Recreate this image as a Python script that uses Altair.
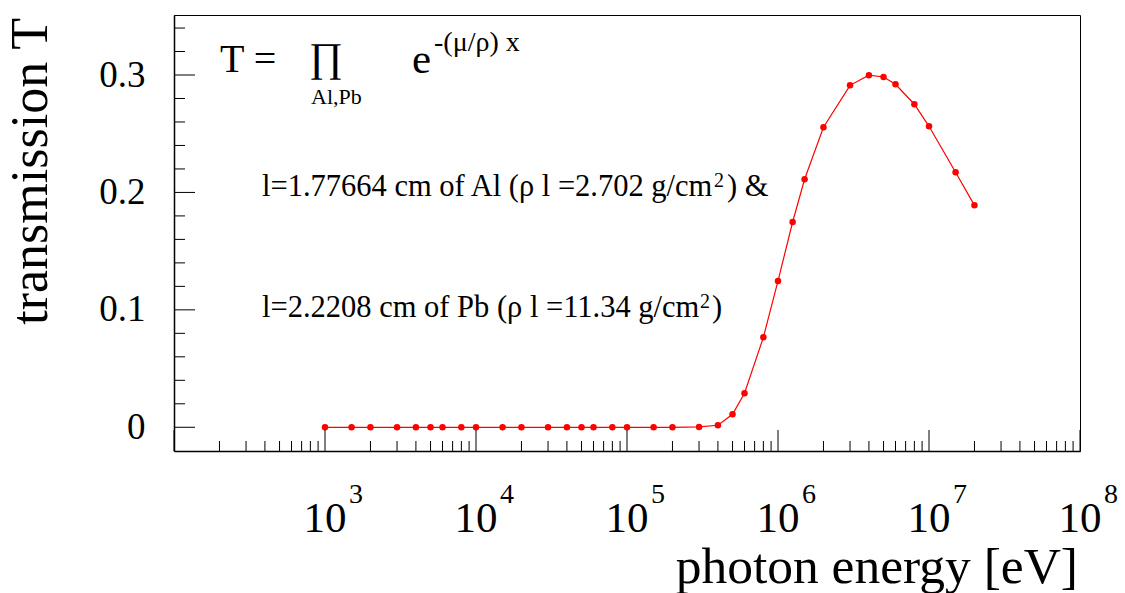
import altair as alt
import pandas as pd

# Photon energies (eV) and the transmission through Al + Pb layers
energy_eV = [1e3, 1.5e3, 2e3, 3e3, 4e3, 5e3, 6e3, 8e3,
             1e4, 1.5e4, 2e4, 3e4, 4e4, 5e4, 6e4, 8e4,
             1e5, 1.5e5, 2e5, 3e5, 4e5, 5e5, 6e5, 8e5,
             1e6, 1.25e6, 1.5e6, 2e6, 3e6, 4e6, 5e6, 6e6, 8e6,
             1e7, 1.5e7, 2e7]
transmission = [0.0, 0.0, 0.0, 0.0, 0.0, 0.0, 0.0, 0.0,
                0.0, 0.0, 0.0, 0.0, 0.0, 0.0, 0.0, 0.0,
                0.0, 0.0, 0.0, 0.0003, 0.0017, 0.0111, 0.0290, 0.0766,
                0.1246, 0.1748, 0.2112, 0.2555, 0.2912, 0.2998, 0.2983, 0.2921, 0.2751,
                0.2563, 0.2172, 0.1890]

# Axis tick values
y_major = [0.0, 0.1, 0.2, 0.3]
y_minor = [0.02, 0.04, 0.06, 0.08, 0.12, 0.14, 0.16, 0.18,
           0.22, 0.24, 0.26, 0.28, 0.32, 0.34]
x_major_exp = [2, 3, 4, 5, 6, 7, 8]
x_label_exp = ["3", "4", "5", "6", "7", "8"]
x_minor_mult = [2, 3, 4, 5, 6, 7, 8, 9]

FONT = "Liberation Serif"
W, H = 906, 436
RED = "#ff0000"

df = pd.DataFrame({"E": energy_eV, "T": transmission})

xs = alt.Scale(type="log", domain=[1e2, 1e8], nice=False)
ys = alt.Scale(domain=[-0.0202, 0.3511], nice=False, zero=False)

x_enc = alt.X("E:Q", scale=xs,
              axis=alt.Axis(labels=False, ticks=False, tickSize=0, title=None, grid=False,
                            domainColor="black", domainWidth=1.5))
y_enc = alt.Y("T:Q", scale=ys,
              axis=alt.Axis(values=y_major, format=".1~f", ticks=False, tickSize=0,
                            grid=False, title=None, labelFont=FONT, labelFontSize=37,
                            labelColor="black", labelPadding=29,
                            domainColor="black", domainWidth=1.5))

line = alt.Chart(df).mark_line(color=RED, strokeWidth=1.2).encode(x=x_enc, y=y_enc)
pts = alt.Chart(df).mark_circle(color=RED, opacity=1, size=42).encode(
    x=alt.X("E:Q", scale=xs), y=alt.Y("T:Q", scale=ys))

# inward ticks on the left axis
yticks_major = alt.Chart(pd.DataFrame({"v": y_major})).mark_rule(
    color="black", strokeWidth=1).encode(
    y=alt.Y("v:Q", scale=ys), x=alt.value(0), x2=alt.value(21))
yticks_minor = alt.Chart(pd.DataFrame({"v": y_minor})).mark_rule(
    color="black", strokeWidth=1).encode(
    y=alt.Y("v:Q", scale=ys), x=alt.value(0), x2=alt.value(11))

# inward ticks on the bottom (log) axis
xmaj = [10.0 ** e for e in x_major_exp]
xmin = [m * 10.0 ** e for e in x_major_exp[:-1] for m in x_minor_mult]
xticks_major = alt.Chart(pd.DataFrame({"v": xmaj})).mark_rule(
    color="black", strokeWidth=1).encode(
    x=alt.X("v:Q", scale=xs), y=alt.value(H), y2=alt.value(H - 21))
xticks_minor = alt.Chart(pd.DataFrame({"v": xmin})).mark_rule(
    color="black", strokeWidth=1).encode(
    x=alt.X("v:Q", scale=xs), y=alt.value(H), y2=alt.value(H - 10))

# "10^n" tick labels
lab_df = pd.DataFrame({"v": [10.0 ** int(e) for e in x_label_exp],
                       "base": ["10"] * len(x_label_exp), "exp": x_label_exp})
xlab_base = alt.Chart(lab_df).mark_text(
    font=FONT, fontSize=43, align="center", baseline="alphabetic", color="black").encode(
    x=alt.X("v:Q", scale=xs), y=alt.value(517), text="base:N")
xlab_exp = alt.Chart(lab_df).mark_text(
    font=FONT, fontSize=28, align="left", baseline="alphabetic", dx=24, color="black").encode(
    x=alt.X("v:Q", scale=xs), y=alt.value(488), text="exp:N")


def label(txt, x, y, size, align="left", angle=0):
    return alt.Chart(pd.DataFrame({"t": [txt]})).mark_text(
        font=FONT, fontSize=size, align=align, baseline="alphabetic",
        angle=angle, color="black").encode(
        x=alt.value(x), y=alt.value(y), text="t:N")


titles = [
    label("photon energy [eV]", 904, 568, 51.5, align="right"),
    label("transmission T", -127, 3, 52, align="right", angle=270),
]

formula = [
    label("T =", 46, 57, 40),
    label("\u220f", 135, 56, 41),
    label("Al,Pb", 137, 89, 22),
    label("e", 238, 58, 43),
    label("-(\u03bc/\u03c1) x", 260, 36, 28),
]

notes = [
    label("l=1.77664 cm of Al (\u03c1 l =2.702 g/cm", 88, 181, 30.5),
    label("2", 540, 172, 20),
    label(") &", 553, 181, 30.5),
    label("l=2.2208 cm of Pb (\u03c1 l =11.34 g/cm", 88, 302, 30.5),
    label("2", 526, 293, 20),
    label(")", 538, 302, 30.5),
]

chart = alt.layer(
    line, pts, yticks_major, yticks_minor, xticks_major, xticks_minor,
    xlab_base, xlab_exp, *titles, *formula, *notes
).properties(
    width=W, height=H,
    autosize=alt.AutoSizeParams(type="none"),
    padding={"left": 174, "top": 15, "right": 45, "bottom": 142},
    background="white",
).configure_view(stroke="black", strokeWidth=1)

chart.save("out.html", embed_options={"renderer": "svg", "actions": False})
